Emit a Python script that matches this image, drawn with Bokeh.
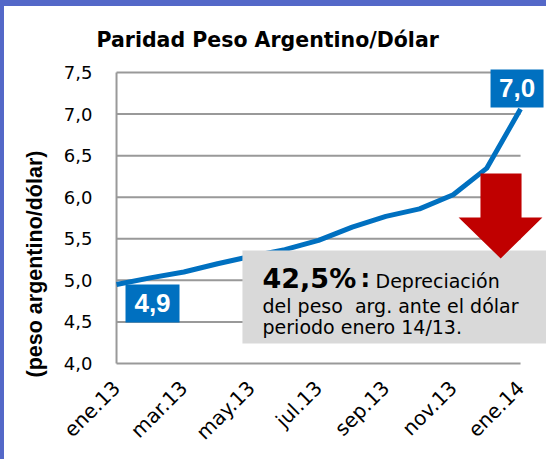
import math
from bokeh.plotting import figure
from bokeh.models import Range1d, FixedTicker, Title
from bokeh.core.properties import value
from bokeh.embed import file_html
from bokeh.resources import INLINE

# ---- data ----
months = ["ene.13", "feb.13", "mar.13", "abr.13", "may.13", "jun.13", "jul.13",
          "ago.13", "sep.13", "oct.13", "nov.13", "dic.13", "ene.14"]
rates = [4.95, 5.03, 5.10, 5.20, 5.29, 5.37, 5.48, 5.64, 5.77, 5.86, 6.03, 6.35, 7.06]
y_ticks = [4.0, 4.5, 5.0, 5.5, 6.0, 6.5, 7.0, 7.5]
x_tick_idx = [0, 2, 4, 6, 8, 10, 12]
value_labels = ["4,9", "7,0"]
headline = "42,5%"
note_word = "Depreciación"
note_lines = ["del peso \u00a0arg. ante el dólar", "periodo enero 14/13."]
title_text = "Paridad Peso Argentino/Dólar"
y_label = "(peso argentino/dólar)"

x = list(range(len(months)))

p = figure(width=546, height=459, output_backend="svg", toolbar_location=None,
           x_range=Range1d(-0.06, 12.89), y_range=Range1d(3.976, 7.62),
           min_border_left=110, min_border_right=0, min_border_top=56,
           min_border_bottom=100, title=title_text)
# slide frame: blue band at top and left
p.styles = {"border-top": "6px solid #5468C8", "border-left": "4px solid #5468C8"}
p.outline_line_color = None
p.background_fill_color = "white"
p.border_fill_color = "white"

p.title.text_font = "DejaVu Sans"
p.title.text_font_style = "bold"
p.title.text_font_size = "20.5px"
p.title.text_color = "black"
p.title.align = "left"
p.title.offset = -18
p.title.standoff = 21

# axes
p.xaxis.ticker = FixedTicker(ticks=x_tick_idx)
p.xaxis.major_label_overrides = {i: months[i] for i in x_tick_idx}
p.xaxis.major_label_orientation = math.pi / 4
p.xaxis.major_label_text_font = "DejaVu Sans"
p.xaxis.major_label_text_font_size = "20px"
p.xaxis.major_label_text_color = "black"
p.xaxis.major_label_standoff = 13
p.xaxis.axis_line_color = None
p.xaxis.major_tick_line_color = None
p.xaxis.minor_tick_line_color = None

p.yaxis.ticker = FixedTicker(ticks=y_ticks)
p.yaxis.major_label_overrides = {t: f"{t:.1f}".replace(".", ",") for t in y_ticks}
p.yaxis.major_label_text_font = "DejaVu Sans"
p.yaxis.major_label_text_font_size = "18px"
p.yaxis.major_label_text_color = "black"
p.yaxis.major_label_standoff = 16
p.yaxis.axis_line_color = None
p.yaxis.major_tick_line_color = None
p.yaxis.minor_tick_line_color = None

# value-axis title, starting a little below the frame as in the original
ytitle = Title(text=y_label, align="left", offset=-12,
               text_font="Liberation Sans", text_font_style="bold",
               text_font_size="21.5px", text_color="black", standoff=28)
p.add_layout(ytitle, "left")

p.xgrid.visible = False
p.ygrid.visible = False

# gridlines (from the tick values) and the value-axis line
grid_col = "#999999"
p.segment(x0=[x[0]] * len(y_ticks), y0=y_ticks, x1=[x[-1]] * len(y_ticks), y1=y_ticks,
          line_color=grid_col, line_width=2)
p.segment(x0=[x[0]], y0=[y_ticks[0]], x1=[x[0]], y1=[y_ticks[-1]],
          line_color=grid_col, line_width=2)

# series
p.line(x, rates, line_color="#0070C0", line_width=5, line_join="round")

# grey note box
p.quad(left=3.74, right=12.77, bottom=4.24, top=5.359,
       fill_color="#D9D9D9", line_color=None)

# red arrow
p.patch(x=[10.81, 12.03, 12.03, 12.65, 11.41, 10.16, 10.81],
        y=[6.285, 6.285, 5.756, 5.756, 5.263, 5.756, 5.756],
        fill_color="#C00000", line_color=None)

# value boxes
blue = "#0070C0"
p.quad(left=[0.267, 11.109], right=[1.871, 12.683], bottom=[4.493, 7.079],
       top=[4.950, 7.536], fill_color=blue, line_color=None)
p.text(x=[1.069, 11.896], y=[4.723, 7.309], text=value_labels,
       text_font=value("Liberation Sans"), text_font_style="bold",
       text_font_size=value("26px"), text_color="white",
       text_align="center", text_baseline="alphabetic")

# note texts
p.text(x=[4.337], y=[5.024], text=[headline], text_font=value("DejaVu Sans"),
       text_font_style="bold", text_font_size=value("27px"), text_color="black",
       text_align="left", text_baseline="alphabetic")
p.text(x=[7.25], y=[5.014], text=[":"], text_font=value("DejaVu Sans"),
       text_font_style="bold", text_font_size=value("24px"), text_color="black",
       text_align="left", text_baseline="alphabetic")
p.text(x=[7.693], y=[4.989], text=[note_word], text_font=value("DejaVu Sans"),
       text_font_size=value("19px"), text_color="black",
       text_align="left", text_baseline="alphabetic")
p.text(x=[4.337, 4.337], y=[4.688, 4.436], text=note_lines,
       text_font=value("DejaVu Sans"), text_font_size=value("19px"),
       text_color="black", text_align="left", text_baseline="alphabetic")

open("out.html", "w").write(file_html(p, INLINE))
